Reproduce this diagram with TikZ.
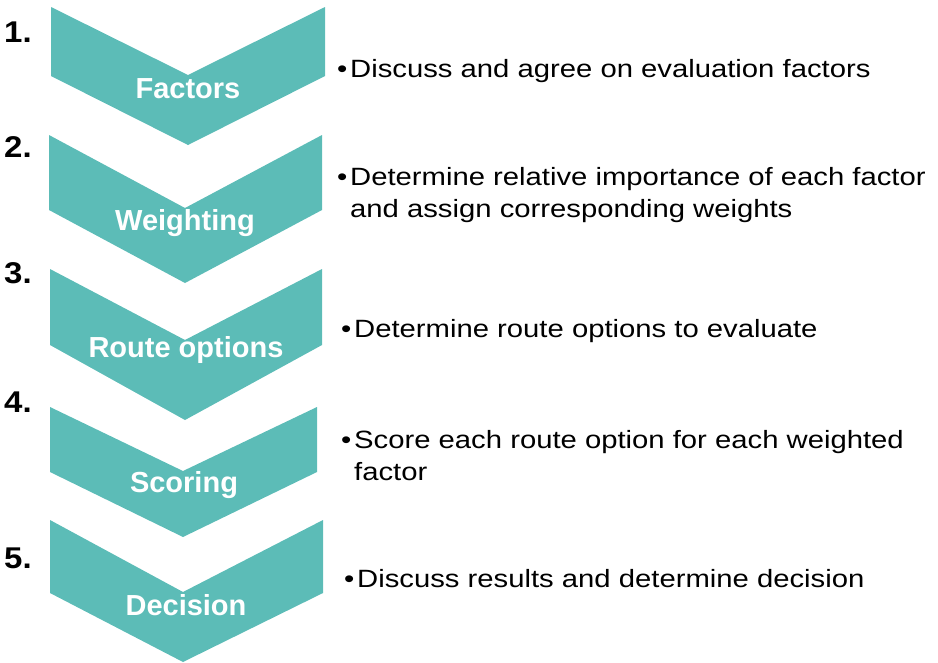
\documentclass[tikz,border=0pt]{standalone}
\usepackage{fontspec}
\setmainfont{Liberation Sans}
\newfontfamily\bodyfont[FakeStretch=1.17]{Liberation Sans}
\newfontfamily\numfont[FakeStretch=1.1]{Liberation Sans}
\definecolor{chev}{RGB}{92,188,183}
\tikzset{
  chevshape/.style={fill=chev, draw=none},
  chevlabel/.style={anchor=base, inner sep=0pt, text=white, font=\fontsize{29}{34}\selectfont\bfseries},
  steplabel/.style={anchor=base west, inner sep=0pt, text=black, font=\numfont\fontsize{30}{34}\selectfont\bfseries},
  bullettext/.style={anchor=base west, inner sep=0pt, text=black, font=\bodyfont\fontsize{25}{32}\selectfont}
}
\newcommand{\bul}{\makebox[13pt][l]{•}}
\begin{document}
\begin{tikzpicture}[x=1pt,y=-1pt]
\useasboundingbox (0,0) rectangle (938,662);
% chevrons
\fill[chevshape] (51,7) -- (188,75) -- (325,7) -- (325,76) -- (188,145) -- (51,76) -- cycle;
\fill[chevshape] (49,135) -- (185,208) -- (322,135) -- (322,210) -- (185,283) -- (49,210) -- cycle;
\fill[chevshape] (50,269) -- (185,340) -- (322,269) -- (322,345) -- (185,420) -- (50,345) -- cycle;
\fill[chevshape] (50,407) -- (183,471) -- (317,407) -- (317,472) -- (183,537) -- (50,472) -- cycle;
\fill[chevshape] (50,520) -- (183,592) -- (323,520) -- (323,593) -- (183,662) -- (50,593) -- cycle;
% chevron labels
\node[chevlabel] (l1) at (188,98) {Factors};
\node[chevlabel] (l2) at (185,230) {Weighting};
\node[chevlabel] (l3) at (186,357) {Route options};
\node[chevlabel] (l4) at (184,492) {Scoring};
\node[chevlabel] (l5) at (186,615) {Decision};
% step numbers
\node[steplabel] (n1) at (4,42) {1.};
\node[steplabel] (n2) at (4,157) {2.};
\node[steplabel] (n3) at (4,283) {3.};
\node[steplabel] (n4) at (4,412) {4.};
\node[steplabel] (n5) at (4,568) {5.};
% descriptions
\node[bullettext] (d1) at (337,77) {\bul Discuss and agree on evaluation factors};
\node[bullettext] (d2) at (337,185) {\bul\begin{tabular}[t]{@{}l@{}}Determine relative importance of each factor\\and assign corresponding weights\end{tabular}};
\node[bullettext] (d3) at (341,337) {\bul Determine route options to evaluate};
\node[bullettext] (d4) at (341,448) {\bul\begin{tabular}[t]{@{}l@{}}Score each route option for each weighted\\factor\end{tabular}};
\node[bullettext] (d5) at (344,587) {\bul Discuss results and determine decision};
\end{tikzpicture}
\end{document}
